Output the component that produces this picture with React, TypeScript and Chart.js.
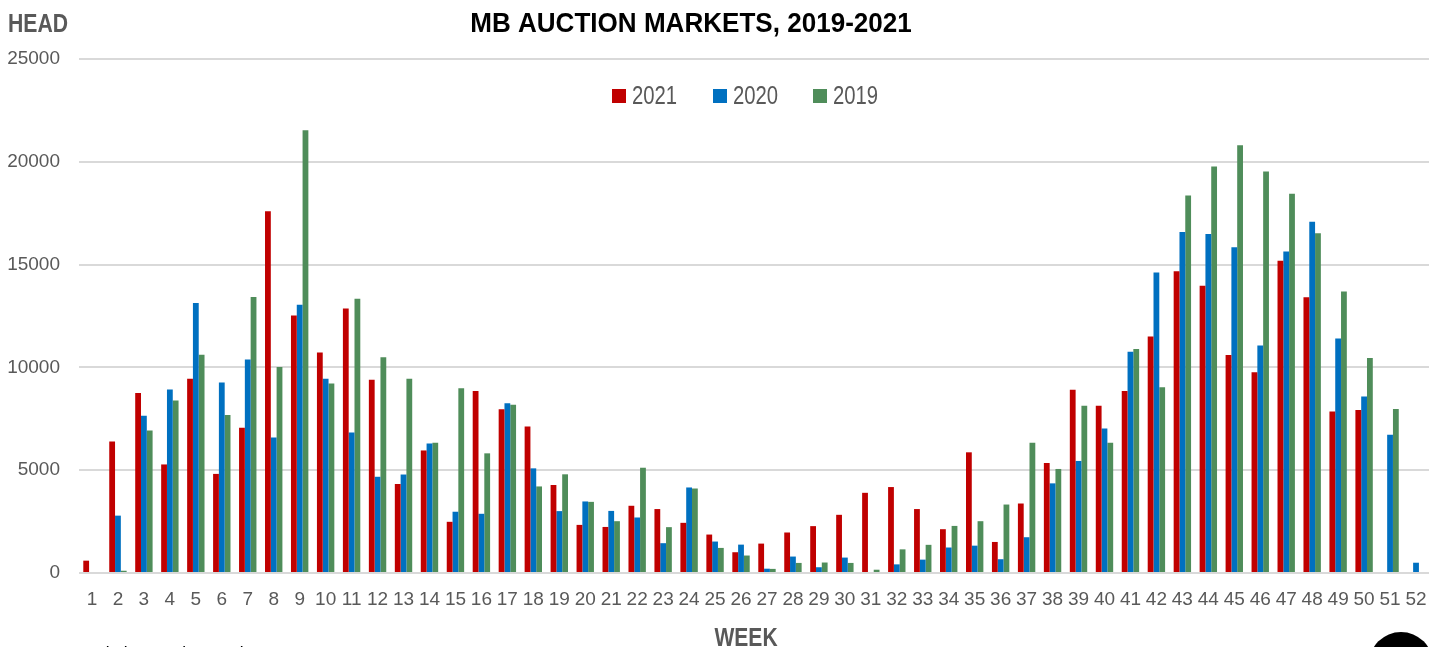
import React, { useEffect, useRef } from "react";
import { Chart, registerables } from "chart.js";

Chart.register(...registerables);

const TITLE = "MB AUCTION MARKETS, 2019-2021";
const Y_TITLE = "HEAD";
const X_TITLE = "WEEK";
const SOURCE = "Source: Manitoba Auction Markets";

const weeks: string[] = Array.from({ length: 52 }, (_, i) => String(i + 1));

const series2021: number[] = [
  600, 6400, 8750, 5280, 9450, 4820, 7060, 17600, 12530, 10730, 12870, 9400, 4330,
  5960, 2490, 8850, 7970, 7120, 4280, 2340, 2240, 3270, 3110, 2440, 1870, 1010,
  1430, 1970, 2280, 2830, 3900, 4180, 3110, 2130, 5870, 1510, 3380, 5350, 8910,
  8130, 8850, 11500, 14680, 13970, 10600, 9760, 15190, 13410, 7850, 7930, 0, 0,
];

const series2020: number[] = [
  0, 2790, 7650, 8930, 13130, 9270, 10390, 6590, 13050, 9450, 6830, 4680, 4790,
  6300, 2980, 2880, 8260, 5090, 3010, 3480, 3020, 2700, 1450, 4160, 1530, 1380,
  210, 800, 280, 750, 0, 420, 650, 1240, 1330, 670, 1740, 4360, 5450,
  7030, 10760, 14620, 16590, 16490, 15840, 11060, 15640, 17090, 11400, 8590, 6730, 500,
];

const series2019: number[] = [
  0, 110, 6930, 8390, 10620, 7690, 13430, 10020, 21530, 9220, 13340, 10490, 9450,
  6330, 8980, 5820, 8180, 4210, 4800, 3460, 2520, 5120, 2230, 4110, 1220, 850,
  200, 490, 510, 490, 160, 1150, 1370, 2290, 2520, 3330, 6330, 5060, 8130,
  6330, 10890, 9040, 18360, 19770, 20800, 19530, 18440, 16520, 13690, 10460, 7980, 0,
];

const seriesLabels: string[] = ["2021", "2020", "2019"];
const seriesColors: string[] = ["#C00000", "#0070C0", "#4F8D5A"];

const FONT = "'Liberation Sans', Arial, sans-serif";
const GRAY = "#595959";

function drawText(
  ctx: CanvasRenderingContext2D,
  text: string,
  x: number,
  y: number,
  align: CanvasTextAlign,
  sx: number
) {
  ctx.save();
  ctx.translate(x, y);
  ctx.scale(sx, 1);
  ctx.textAlign = align;
  ctx.textBaseline = "alphabetic";
  ctx.fillText(text, 0, 0);
  ctx.restore();
}

const overlayPlugin = {
  id: "overlay",
  afterDraw(chart: any) {
    const ctx = chart.ctx as CanvasRenderingContext2D;
    ctx.save();
    // title
    ctx.fillStyle = "#000000";
    ctx.font = `bold 27px ${FONT}`;
    drawText(ctx, TITLE, 691, 32, "center", 0.965);
    // axis titles
    ctx.fillStyle = GRAY;
    ctx.font = `bold 26px ${FONT}`;
    drawText(ctx, Y_TITLE, 8, 32, "left", 0.815);
    drawText(ctx, X_TITLE, 746, 646, "center", 0.81);
    // legend
    const legendX = [612, 713, 813];
    ctx.font = `26px ${FONT}`;
    chart.data.datasets.forEach((ds: any, i: number) => {
      const x = legendX[i];
      ctx.fillStyle = ds.backgroundColor;
      ctx.fillRect(x, 89, 14, 14);
      ctx.fillStyle = GRAY;
      drawText(ctx, ds.label, x + 20, 104, "left", 0.78);
    });
    // source
    ctx.fillStyle = "#000000";
    ctx.font = `21px ${FONT}`;
    drawText(ctx, SOURCE, 8, 661, "left", 0.82);
    // logo fragment
    ctx.beginPath();
    ctx.arc(1401, 664, 32, 0, Math.PI * 2);
    ctx.fillStyle = "#000000";
    ctx.fill();
    ctx.restore();
  },
};

export default function App() {
  const ref = useRef<HTMLCanvasElement | null>(null);
  useEffect(() => {
    if (!ref.current) return;
    const datasetsData = [series2021, series2020, series2019];
    const chart = new Chart(ref.current, {
      type: "bar",
      data: {
        labels: weeks,
        datasets: seriesLabels.map((label, i) => ({
          label,
          data: datasetsData[i],
          backgroundColor: seriesColors[i],
          borderWidth: 0,
          barPercentage: 1,
          categoryPercentage: 0.67,
        })),
      },
      options: {
        animation: false,
        responsive: false,
        devicePixelRatio: 1,
        layout: { padding: { top: 59, right: 13, bottom: 0, left: 0 } },
        plugins: {
          legend: { display: false },
          title: { display: false },
          tooltip: { enabled: false },
        },
        scales: {
          x: {
            grid: { display: false, drawTicks: false },
            border: { display: false },
            ticks: {
              color: GRAY,
              font: { family: FONT, size: 19 },
              padding: 15,
              maxRotation: 0,
              autoSkip: false,
            },
            afterFit: (scale: any) => {
              scale.height = 74;
            },
          },
          y: {
            min: 0,
            max: 25000,
            grid: { color: "#D9D9D9", lineWidth: 2, drawTicks: false },
            border: { display: false },
            ticks: {
              stepSize: 5000,
              color: GRAY,
              font: { family: FONT, size: 19 },
              padding: 19,
              callback: (v: any) => String(v),
            },
            afterFit: (scale: any) => {
              scale.width = 79;
            },
          },
        },
      },
      plugins: [overlayPlugin],
    });
    return () => chart.destroy();
  }, []);
  return (
    <div style={{ position: "absolute", left: 0, top: 0, width: 1442, height: 647, background: "#fff" }}>
      <canvas ref={ref} width={1442} height={647} />
    </div>
  );
}
